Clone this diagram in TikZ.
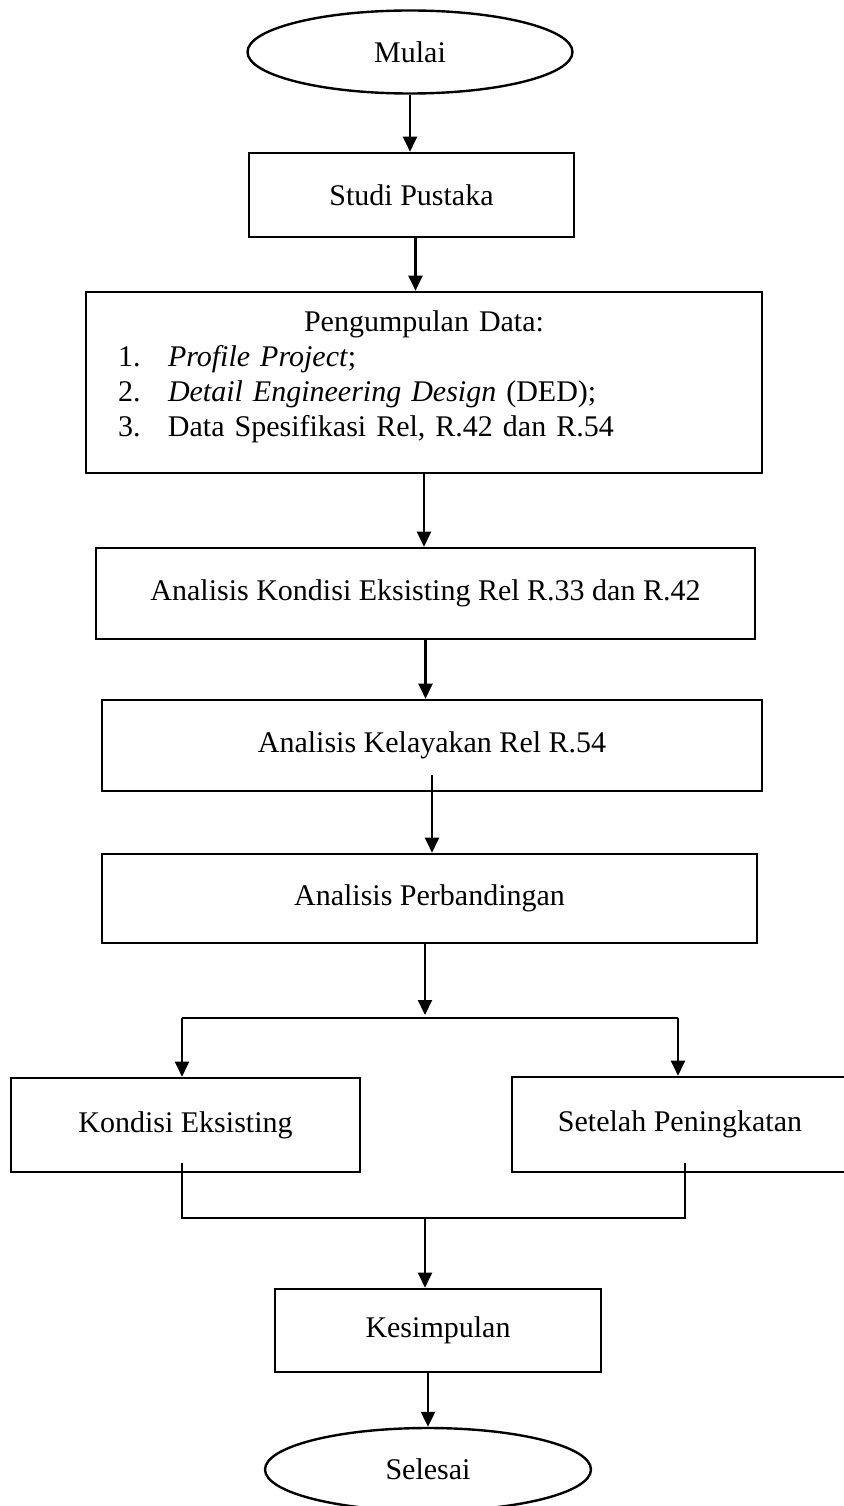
\documentclass[tikz,border=0pt]{standalone}
\usepackage{fontspec}
\setmainfont{Liberation Serif}
\usetikzlibrary{shapes.geometric,arrows.meta,positioning,calc}

\tikzset{
  proses/.style={draw, line width=2.6pt, rectangle, inner sep=0pt, align=center},
  terminal/.style={draw, line width=2.4pt, ellipse, inner sep=0pt},
  panah/.style={line width=2.2pt, -{Triangle[length=15pt,width=14pt]}},
  garis/.style={line width=2.2pt},
}

\begin{document}
\begin{tikzpicture}[x=1pt,y=-1pt,font=\fontsize{30}{35}\selectfont]
  \useasboundingbox (0,0) rectangle (843,1506);

  % mulai dan studi pustaka
  \node[terminal, minimum width=325pt, minimum height=83pt] (mulai) at (410,52) {Mulai};
  \node[proses, minimum width=325pt, minimum height=84pt] (studi) at (411.5,195) {Studi Pustaka};

  % pengumpulan data
  \node[proses, minimum width=676pt, minimum height=181pt, text width=676pt, align=left] (data) at (424,382.5)
    {{\centering Pengumpulan Data:\par}
     \hspace*{32pt}\makebox[50pt][l]{1.}\textit{Profile Project};\par
     \hspace*{32pt}\makebox[50pt][l]{2.}\textit{Detail Engineering Design} (DED);\par
     \hspace*{32pt}\makebox[50pt][l]{3.}Data Spesifikasi Rel, R.42 dan R.54\rule[-18pt]{0pt}{1pt}};

  % analisis
  \node[proses, minimum width=659pt, minimum height=91pt] (kondisi) at (425.5,593.5) {Analisis Kondisi Eksisting Rel R.33 dan R.42};
  \node[proses, minimum width=660pt, minimum height=91pt] (kelayakan) at (432,745.5) {Analisis Kelayakan Rel R.54};
  \node[proses, minimum width=655pt, minimum height=89pt] (banding) at (429.5,898.5) {Analisis Perbandingan};

  % dua cabang
  \node[proses, minimum width=349pt, minimum height=94pt] (eksisting) at (185.5,1125) {Kondisi Eksisting};
  \node[proses, minimum width=336pt, minimum height=95pt] (setelah) at (680,1124.5) {Setelah Peningkatan};

  % kesimpulan dan selesai
  \node[proses, minimum width=326pt, minimum height=83pt] (kesimpulan) at (438,1330.5) {Kesimpulan};
  \node[terminal, minimum width=326pt, minimum height=83pt] (selesai) at (428,1469.5) {Selesai};

  % titik bantu
  \coordinate (k1) at (432,775);
  \coordinate (kiri) at (182,1018);
  \coordinate (kanan) at (678,1018);
  \coordinate (ek1) at (182,1163);
  \coordinate (se1) at (685,1163);
  \coordinate (gabung) at (425,1218);

  % panah
  \draw[panah] (mulai.south) -- (mulai.south |- studi.north);
  \draw[panah] ([xshift=4pt]studi.south) -- ([xshift=4pt]studi.south |- data.north);
  \draw[panah] (data.south) -- (data.south |- kondisi.north);
  \draw[panah] (kondisi.south) -- (kondisi.south |- kelayakan.north);
  \draw[panah] (k1) -- (k1 |- banding.north);
  \draw[panah, shorten >=3pt] (banding.south -| gabung) -- (kiri -| gabung);
  \draw[garis] (kiri) -- (kanan);
  \draw[panah] (kiri) -- (kiri |- eksisting.north);
  \draw[panah] (kanan) -- (kanan |- setelah.north);
  \draw[garis] (ek1) -- (ek1 |- gabung) -- (se1 |- gabung) -- (se1);
  \draw[panah] (gabung) -- (gabung |- kesimpulan.north);
  \draw[panah] (kesimpulan.south -| selesai.north) -- (selesai.north);
\end{tikzpicture}
\end{document}
